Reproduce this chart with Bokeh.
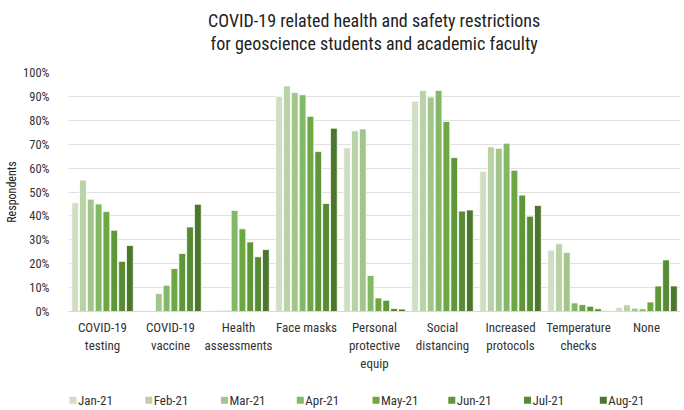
from bokeh.plotting import figure
from bokeh.layouts import column
from bokeh.models import FactorRange, FixedTicker, NumeralTickFormatter, ColumnDataSource
from bokeh.transform import dodge
from bokeh.embed import file_html
from bokeh.resources import INLINE

title_lines = ["COVID-19 related health and safety restrictions",
               "for geoscience students and academic faculty"]
categories = ["COVID-19\ntesting", "COVID-19\nvaccine", "Health\nassessments", "Face masks",
              "Personal\nprotective\nequip", "Social\ndistancing", "Increased\nprotocols",
              "Temperature\nchecks", "None"]
months = ["Jan-21", "Feb-21", "Mar-21", "Apr-21", "May-21", "Jun-21", "Jul-21", "Aug-21"]

jan = [45.5, 0.0, 0.0, 90.0, 68.5, 88.0, 58.7, 25.7, 1.7]
feb = [55.0, 0.0, 0.5, 94.4, 75.6, 92.5, 68.9, 28.3, 2.8]
mar = [47.0, 7.5, 0.5, 91.6, 76.4, 89.7, 68.3, 24.7, 1.4]
apr = [45.0, 11.0, 42.3, 90.7, 15.1, 92.5, 70.4, 3.6, 1.1]
may = [41.8, 18.0, 34.6, 81.7, 5.7, 79.5, 59.1, 2.9, 4.0]
jun = [34.0, 24.3, 29.1, 66.9, 4.7, 64.4, 48.7, 2.2, 10.7]
jul = [21.0, 35.4, 22.9, 45.2, 1.3, 42.0, 39.9, 1.1, 21.6]
aug = [27.6, 44.9, 25.9, 76.7, 1.0, 42.5, 44.4, 0.4, 10.7]

series = [jan, feb, mar, apr, may, jun, jul, aug]
colors = ["#d0dfc3", "#b8d3a6", "#a3c48a", "#82b866", "#6ca743", "#5f9738", "#568a33", "#4b762b"]
y_ticks = [i / 10 for i in range(11)]

FONT = "'Roboto Condensed', 'Liberation Sans Narrow', 'DejaVu Sans Condensed', Roboto"
TEXT = "#333333"

# ---- title strip ----
tsrc = ColumnDataSource(dict(t=title_lines, x=[343, 343], y=[40, 17]))
tfig = figure(width=680, height=60, x_range=(0, 680), y_range=(0, 60),
              x_axis_location=None, y_axis_location=None,
              output_backend="svg", toolbar_location=None, outline_line_color=None, title=None,
              min_border_top=0, min_border_bottom=0, min_border_left=0, min_border_right=0)
tfig.grid.visible = False
tfig.text(x="x", y="y", text="t", source=tsrc, text_align="center", text_baseline="middle",
          text_font_size="18px", text_color="#222222", text_font={"value": FONT})

# ---- main chart ----
data = {"cat": categories}
for m, s in zip(months, series):
    data[m] = [v / 100 for v in s]

p = figure(x_range=FactorRange(factors=categories, range_padding=0), y_range=(0, 1.0),
           frame_width=612, frame_height=239, output_backend="svg", toolbar_location=None,
           title=None, min_border_left=68, min_border_right=0, min_border_top=12,
           min_border_bottom=55, outline_line_color=None)

for i, (m, c) in enumerate(zip(months, colors)):
    p.vbar(x=dodge("cat", (i - 3.5) * 0.115, range=p.x_range), top=m, width=0.1,
           source=data, fill_color=c, line_color="white", line_width=0.8)

p.yaxis.ticker = FixedTicker(ticks=y_ticks)
p.yaxis.formatter = NumeralTickFormatter(format="0%")
p.yaxis.axis_label = "Respondents"
p.yaxis.axis_label_text_font = FONT
p.yaxis.axis_label_text_font_size = "12px"
p.yaxis.axis_label_text_font_style = "normal"
p.yaxis.axis_label_text_color = "#222222"
p.yaxis.axis_label_standoff = 1
p.yaxis.axis_line_color = None
p.yaxis.major_tick_line_color = None
p.yaxis.minor_tick_line_color = None
p.yaxis.major_label_standoff = 13
p.yaxis.major_label_text_font = FONT
p.yaxis.major_label_text_font_size = "12.5px"
p.yaxis.major_label_text_color = TEXT

p.xaxis.major_label_text_font = FONT
p.xaxis.major_label_text_font_size = "13px"
p.xaxis.major_label_text_color = TEXT
p.xaxis.axis_line_color = "#d9d9d9"
p.xaxis.major_tick_line_color = None
p.xaxis.minor_tick_line_color = None
p.xaxis.major_label_standoff = 2

p.xgrid.grid_line_color = None
p.ygrid.grid_line_color = "#e0e0e0"
p.ygrid.grid_line_width = 1

# ---- legend strip ----
lsrc = ColumnDataSource(dict(m=months, c=colors, y=[0.26] * len(months)))
lfig = figure(width=680, height=36, x_range=FactorRange(factors=months, range_padding=0),
              y_range=(0, 1), x_axis_location=None, y_axis_location=None,
              output_backend="svg", toolbar_location=None, title=None,
              outline_line_color=None,
              min_border_top=0, min_border_bottom=0, min_border_left=68, min_border_right=6)
lfig.grid.visible = False
lfig.scatter(x=dodge("m", -0.44, range=lfig.x_range), y="y", marker="square", size=7,
             fill_color="c", line_color=None, source=lsrc)
lfig.text(x=dodge("m", -0.375, range=lfig.x_range), y="y", text="m", source=lsrc,
          text_align="left", text_baseline="middle", text_font_size="13px",
          text_color=TEXT, text_font={"value": FONT})

layout = column(tfig, p, lfig, spacing=0)
open("out.html", "w").write(file_html(layout, INLINE))
